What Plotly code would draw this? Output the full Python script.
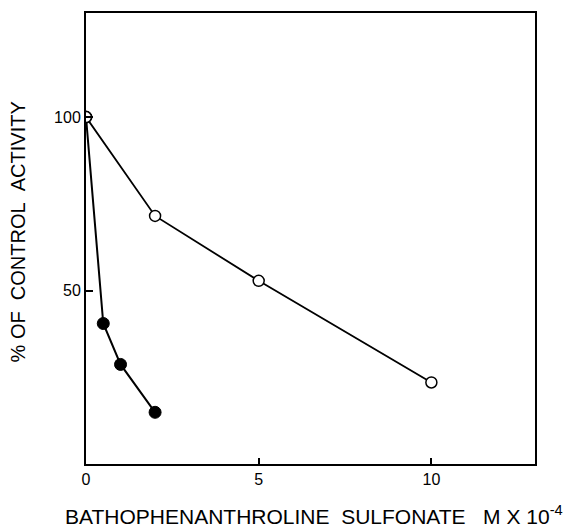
import plotly.graph_objects as go

# Data
conc_open = [0, 2, 5, 10]
act_open = [100, 71.5, 52.8, 23.5]
conc_filled = [0, 0.5, 1, 2]
act_filled = [100, 40.5, 28.7, 14.9]

x_ticks = [0, 5, 10]
x_tick_text = ["0", "5", "10"]
y_ticks = [50, 100]
y_tick_text = ["50", "100"]

FONT = "Liberation Sans"

fig = go.Figure()
fig.add_trace(go.Scatter(
    x=conc_filled, y=act_filled, mode="lines+markers",
    line=dict(color="black", width=2),
    marker=dict(size=12, color="black", line=dict(color="black", width=1)),
    showlegend=False,
))
fig.add_trace(go.Scatter(
    x=conc_open, y=act_open, mode="lines+markers",
    line=dict(color="black", width=1.8),
    marker=dict(size=11, color="white", line=dict(color="black", width=1.5)),
    showlegend=False,
))

fig.update_layout(
    width=567, height=528,
    margin=dict(l=86, r=32, t=11, b=64),
    paper_bgcolor="white", plot_bgcolor="white",
    font=dict(family=FONT, color="black", size=16),
    xaxis=dict(
        range=[0, 13], showgrid=False, zeroline=False,
        showline=True, mirror=True, linecolor="black", linewidth=2,
        ticks="inside", ticklen=6, tickwidth=1.5, tickcolor="black",
        tickvals=x_ticks, ticktext=x_tick_text,
        tickfont=dict(size=16, family=FONT, color="black"),
    ),
    yaxis=dict(
        range=[0, 130], showgrid=False, zeroline=False,
        showline=True, mirror=True, linecolor="black", linewidth=2,
        ticks="inside", ticklen=7, tickwidth=1.5, tickcolor="black",
        tickvals=y_ticks, ticktext=y_tick_text,
        tickfont=dict(size=16, family=FONT, color="black"),
    ),
    annotations=[
        dict(
            text="BATHOPHENANTHROLINE&nbsp;&nbsp;SULFONATE&nbsp;&nbsp;&nbsp;M X 10<sup>-4</sup>",
            xref="paper", yref="paper", x=0.508, y=-0.112,
            xanchor="center", yanchor="middle", showarrow=False,
            font=dict(size=21, family=FONT, color="black"),
        ),
        dict(
            text="%&nbsp;OF&nbsp;&nbsp;CONTROL&nbsp;&nbsp;ACTIVITY",
            xref="paper", yref="paper", x=-0.151, y=0.514,
            xanchor="center", yanchor="middle", showarrow=False,
            textangle=-90, font=dict(size=20, family=FONT, color="black"),
        ),
    ],
)

fig.write_html("out.html", config={"displayModeBar": False},
               post_script="document.body.style.margin='0';")
